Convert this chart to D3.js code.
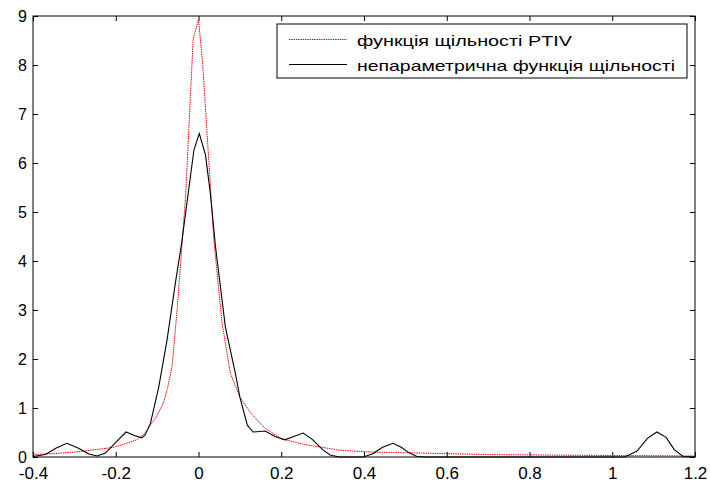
<!DOCTYPE html>
<html lang="uk">
<head>
<meta charset="UTF-8">
<title>Density</title>
<script src="https://d3js.org/d3.v7.min.js"></script>
<style>
  body { margin: 0; background: #fff; }
  svg { display: block; }
</style>
</head>
<body>
<svg width="710" height="483"></svg>
<script>
// PTIV density (red, dotted)
const ptivX = [-0.4, -0.35, -0.3, -0.26, -0.21, -0.18, -0.15, -0.13, -0.116, -0.1, -0.085, -0.075, -0.064, -0.051, -0.039, -0.031, -0.0128, 0, 0.0097, 0.037, 0.057, 0.077, 0.1, 0.126, 0.16, 0.2, 0.26, 0.34, 0.42, 0.54, 0.7, 0.83, 1.0, 1.2];
const ptivY = [0.05, 0.07, 0.1, 0.14, 0.19, 0.26, 0.35, 0.48, 0.65, 0.85, 1.1, 1.4, 1.84, 3.07, 4.43, 5.35, 8.54, 8.92, 8.07, 4.43, 2.73, 1.71, 1.22, 0.9, 0.59, 0.37, 0.25, 0.14, 0.1, 0.08, 0.05, 0.04, 0.03, 0.02];

// nonparametric density (black, solid)
const npX = [-0.4, -0.37, -0.345, -0.318, -0.29, -0.265, -0.245, -0.225, -0.2, -0.175, -0.155, -0.137, -0.129, -0.116, -0.096, -0.076, -0.055, -0.041, -0.011, 0.002, 0.017, 0.029, 0.041, 0.065, 0.089, 0.1, 0.118, 0.132, 0.161, 0.185, 0.209, 0.23, 0.253, 0.275, 0.3, 0.318, 0.34, 0.398, 0.42, 0.445, 0.47, 0.49, 0.51, 0.528, 0.55, 1.03, 1.06, 1.085, 1.108, 1.13, 1.15, 1.171, 1.2];
const npY = [0.01, 0.05, 0.18, 0.28, 0.18, 0.06, 0.02, 0.08, 0.3, 0.51, 0.44, 0.39, 0.45, 0.69, 1.43, 2.39, 3.6, 4.35, 6.27, 6.6, 6.16, 5.35, 4.3, 2.65, 1.71, 1.22, 0.65, 0.51, 0.53, 0.42, 0.35, 0.42, 0.49, 0.36, 0.15, 0.04, 0.0, 0.0, 0.06, 0.2, 0.28, 0.2, 0.08, 0.01, 0.0, 0.0, 0.12, 0.38, 0.51, 0.4, 0.15, 0.01, 0.0];

const xTicks = [-0.4, -0.2, 0, 0.2, 0.4, 0.6, 0.8, 1, 1.2];
const yTicks = [0, 1, 2, 3, 4, 5, 6, 7, 8, 9];
const legendLabels = ["функція щільності PTIV", "непараметрична функція щільності"];

const svg = d3.select("svg");
const plotL = 33, plotR = 695, plotT = 16, plotB = 457;
const font = "Arial, 'Liberation Sans', sans-serif";

const x = d3.scaleLinear().domain([-0.4, 1.2]).range([plotL, plotR]);
const y = d3.scaleLinear().domain([0, 9]).range([plotB, plotT]);

const fmt = d => d === 0 ? "0" : String(d);

// ticks pointing inward, on all four sides
svg.append("g").attr("transform", `translate(0,${plotB})`)
    .call(d3.axisBottom(x).tickValues(xTicks).tickSizeInner(-5).tickSizeOuter(0).tickPadding(10).tickFormat(fmt))
    .call(a => a.select(".domain").remove())
    .selectAll("text").style("font-size", "17px").style("font-family", font);

svg.append("g").attr("transform", `translate(0,${plotT})`)
    .call(d3.axisTop(x).tickValues(xTicks).tickSizeInner(-5).tickSizeOuter(0).tickFormat(""))
    .call(a => a.select(".domain").remove());

svg.append("g").attr("transform", `translate(${plotL},0)`)
    .call(d3.axisLeft(y).tickValues(yTicks).tickSizeInner(-5).tickSizeOuter(0).tickPadding(6))
    .call(a => a.select(".domain").remove())
    .selectAll("text").style("font-size", "16px").style("font-family", font);

svg.append("g").attr("transform", `translate(${plotR},0)`)
    .call(d3.axisRight(y).tickValues(yTicks).tickSizeInner(-5).tickSizeOuter(0).tickFormat(""))
    .call(a => a.select(".domain").remove());

svg.selectAll(".tick line").attr("stroke", "#000");

// curves
const line = d3.line().x(d => x(d[0])).y(d => y(d[1]));

svg.append("path")
    .datum(ptivX.map((v, i) => [v, ptivY[i]]))
    .attr("d", line)
    .attr("fill", "none")
    .attr("stroke", "#ff0000")
    .attr("stroke-width", 1)
    .attr("stroke-dasharray", "1.5,0.8");

svg.append("path")
    .datum(npX.map((v, i) => [v, npY[i]]))
    .attr("d", line)
    .attr("fill", "none")
    .attr("stroke", "#000")
    .attr("stroke-width", 1.1);

// box
svg.append("rect")
    .attr("x", plotL).attr("y", plotT)
    .attr("width", plotR - plotL).attr("height", plotB - plotT)
    .attr("fill", "none").attr("stroke", "#000").attr("stroke-width", 1);

// legend
const legend = svg.append("g").attr("transform", "translate(277,24)");
legend.append("rect")
    .attr("width", 410).attr("height", 54)
    .attr("fill", "#fff").attr("stroke", "#000").attr("stroke-width", 1);

const styles = [
    {color: "#ff0000", dash: "1.5,0.8", len: 215},
    {color: "#000", dash: null, len: 318}
];
legendLabels.forEach((lab, i) => {
    const yy = 15.5 + i * 25;
    legend.append("line")
        .attr("x1", 12).attr("x2", 70).attr("y1", yy).attr("y2", yy)
        .attr("stroke", styles[i].color).attr("stroke-width", 1)
        .attr("stroke-dasharray", styles[i].dash);
    legend.append("text")
        .attr("x", 80).attr("y", yy + 6)
        .attr("textLength", styles[i].len)
        .attr("lengthAdjust", "spacingAndGlyphs")
        .style("font-size", "15px")
        .style("font-family", font)
        .text(lab);
});
</script>
</body>
</html>
